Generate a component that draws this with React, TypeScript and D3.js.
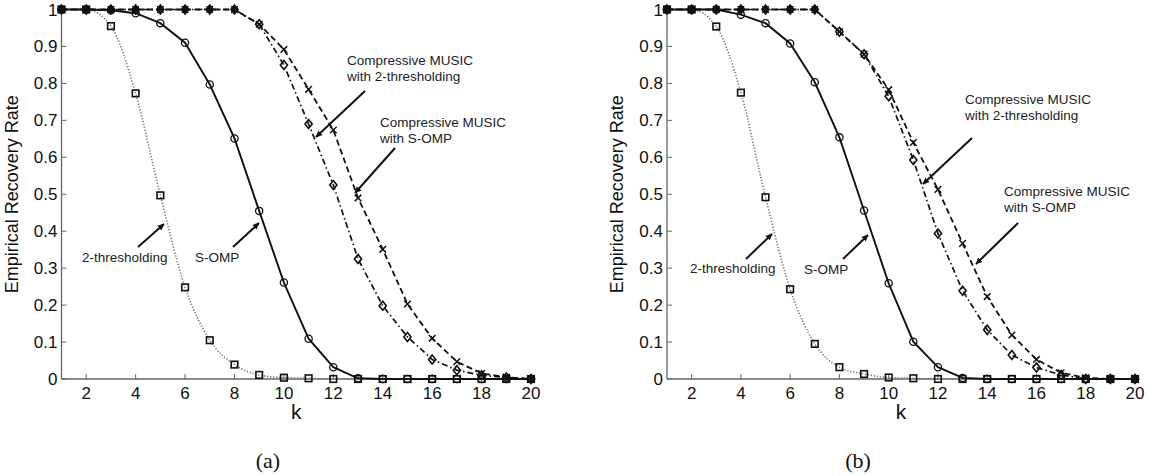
import React from "react";
import * as d3 from "d3";

const kValues = [1, 2, 3, 4, 5, 6, 7, 8, 9, 10, 11, 12, 13, 14, 15, 16, 17, 18, 19, 20];
const xTicks = [2, 4, 6, 8, 10, 12, 14, 16, 18, 20];
const yTicks = [0, 0.1, 0.2, 0.3, 0.4, 0.5, 0.6, 0.7, 0.8, 0.9, 1];

// panel (a)
const thr2A = [1, 1, 0.955, 0.773, 0.497, 0.248, 0.105, 0.039, 0.011, 0.0035, 0.002, 0, 0, 0, 0, 0, 0, 0, 0, 0];
const sompA = [1, 1, 0.998, 0.99, 0.963, 0.91, 0.797, 0.651, 0.455, 0.261, 0.109, 0.032, 0.002, 0, 0, 0, 0, 0, 0, 0];
const music2A = [1, 1, 1, 1, 1, 1, 1, 1, 0.96, 0.85, 0.69, 0.525, 0.325, 0.198, 0.114, 0.053, 0.024, 0.01, 0.004, 0];
const musicSA = [1, 1, 1, 1, 1, 1, 1, 1, 0.96, 0.892, 0.784, 0.674, 0.49, 0.351, 0.203, 0.11, 0.047, 0.015, 0.005, 0];

// panel (b)
const thr2B = [1, 1, 0.954, 0.775, 0.492, 0.243, 0.095, 0.032, 0.0135, 0.004, 0.002, 0, 0, 0, 0, 0, 0, 0, 0, 0];
const sompB = [1, 1, 1, 0.986, 0.963, 0.908, 0.803, 0.654, 0.456, 0.259, 0.101, 0.032, 0.003, 0, 0, 0, 0, 0, 0, 0];
const music2B = [1, 1, 1, 1, 1, 1, 1, 0.94, 0.879, 0.765, 0.593, 0.394, 0.239, 0.133, 0.065, 0.031, 0.011, 0, 0, 0];
const musicSB = [1, 1, 1, 1, 1, 1, 1, 0.94, 0.879, 0.783, 0.64, 0.513, 0.367, 0.223, 0.119, 0.053, 0.017, 0.003, 0, 0];

const yLabel = "Empirical Recovery Rate";
const xLabel = "k";
const captions = ["(a)", "(b)"];

type Ann = { lines: string[]; tx: number; ty: number; ax1: number; ay1: number; ax2: number; ay2: number };

const annA: Ann[] = [
  { lines: ["Compressive MUSIC", "with 2-thresholding"], tx: 347, ty: 65, ax1: 365, ay1: 91, ax2: 316, ay2: 137 },
  { lines: ["Compressive MUSIC", "with S-OMP"], tx: 380, ty: 127, ax1: 395, ay1: 148, ax2: 355, ay2: 193 },
  { lines: ["2-thresholding"], tx: 82, ty: 262, ax1: 138, ay1: 247, ax2: 164, ay2: 224 },
  { lines: ["S-OMP"], tx: 195, ty: 262, ax1: 233, ay1: 247, ax2: 259, ay2: 223 },
];
const annB: Ann[] = [
  { lines: ["Compressive MUSIC", "with 2-thresholding"], tx: 965, ty: 104, ax1: 972, ay1: 138, ax2: 923, ay2: 184 },
  { lines: ["Compressive MUSIC", "with S-OMP"], tx: 1004, ty: 196, ax1: 1018, ay1: 223, ax2: 976, ay2: 264 },
  { lines: ["2-thresholding"], tx: 690, ty: 273, ax1: 746, ay1: 259, ax2: 772, ay2: 234 },
  { lines: ["S-OMP"], tx: 804, ty: 274, ax1: 843, ay1: 259, ax2: 868, ay2: 235 },
];

const SANS = "'Liberation Sans', Arial, Helvetica, sans-serif";

function Panel(props: {
  x0: number; x1: number; y0: number; y1: number;
  thr2: number[]; somp: number[]; music2: number[]; musicS: number[];
  ann: Ann[]; caption: string; capX: number; idp: string;
}) {
  const { x0, x1, y0, y1, thr2, somp, music2, musicS, ann, caption, capX, idp } = props;
  const x = d3.scaleLinear().domain([1, 20]).range([x0, x1]);
  const y = d3.scaleLinear().domain([0, 1]).range([y0, y1]);
  const pts = (arr: number[]) => kValues.map((k, i) => [k, arr[i]] as [number, number]);
  const lineLin = d3.line<[number, number]>().x((d) => x(d[0])).y((d) => y(d[1]));
  const lineSmooth = d3.line<[number, number]>().x((d) => x(d[0])).y((d) => y(d[1])).curve(d3.curveMonotoneX);
  const axisColor = "#666";
  return (
    <g>
      <defs>
        <marker id={idp + "arrow"} viewBox="0 0 10 10" refX="9" refY="5" markerWidth="7" markerHeight="7" markerUnits="userSpaceOnUse" orient="auto">
          <path d="M0,0.5 L10,5 L0,9.5 z" fill="#111" />
        </marker>
      </defs>
      {/* axes */}
      <line x1={x0} x2={x1} y1={y0} y2={y0} stroke={axisColor} strokeWidth={1.3} />
      <line x1={x0} x2={x0} y1={y0} y2={y1} stroke={axisColor} strokeWidth={1.3} />
      {xTicks.map((t) => (
        <g key={"xt" + t}>
          <line x1={x(t)} x2={x(t)} y1={y0} y2={y0 - 5} stroke={axisColor} strokeWidth={1} />
          <text x={x(t)} y={y0 + 20} textAnchor="middle" fontFamily={SANS} fontSize={17} fill="#111">{t}</text>
        </g>
      ))}
      {yTicks.map((t) => (
        <g key={"yt" + t}>
          <line x1={x0} x2={x0 + 5} y1={y(t)} y2={y(t)} stroke={axisColor} strokeWidth={1} />
          <text x={x0 - 4} y={y(t) + 6} textAnchor="end" fontFamily={SANS} fontSize={17} fill="#111">{t === 0 ? "0" : t === 1 ? "1" : t.toFixed(1)}</text>
        </g>
      ))}
      <text x={(x0 + x1) / 2} y={y0 + 40} textAnchor="middle" fontFamily={SANS} fontSize={21} fill="#111">{xLabel}</text>
      <text transform={`translate(${x0 - 44},${(y0 + y1) / 2}) rotate(-90)`} textAnchor="middle" fontFamily={SANS} fontSize={18} fill="#111">{yLabel}</text>
      <text x={capX} y={468} textAnchor="middle" fontFamily="'Liberation Serif', 'DejaVu Serif', serif" fontSize={22} fill="#111">{caption}</text>

      {/* series lines */}
      <path d={lineSmooth(pts(thr2)) || ""} fill="none" stroke="#777" strokeWidth={1.6} strokeDasharray="1.3,1.7" />
      <path d={lineLin(pts(somp)) || ""} fill="none" stroke="#111" strokeWidth={1.9} />
      <path d={lineLin(pts(music2)) || ""} fill="none" stroke="#111" strokeWidth={1.7} strokeDasharray="6,3,1.5,3" />
      <path d={lineLin(pts(musicS)) || ""} fill="none" stroke="#111" strokeWidth={1.8} strokeDasharray="6,3.5" />

      {/* markers */}
      {pts(thr2).map((p, i) => (
        <rect key={"sq" + i} x={x(p[0]) - 3.3} y={y(p[1]) - 3.3} width={6.6} height={6.6} fill="none" stroke="#111" strokeWidth={1.6} />
      ))}
      {pts(somp).map((p, i) => (
        <circle key={"ci" + i} cx={x(p[0])} cy={y(p[1])} r={3.6} fill="none" stroke="#111" strokeWidth={1.3} />
      ))}
      {pts(music2).map((p, i) => (
        <path key={"di" + i} d={`M${x(p[0])},${y(p[1]) - 4.5} L${x(p[0]) + 3.6},${y(p[1])} L${x(p[0])},${y(p[1]) + 4.5} L${x(p[0]) - 3.6},${y(p[1])} Z`} fill="none" stroke="#111" strokeWidth={1.6} />
      ))}
      {pts(musicS).map((p, i) => (
        <path key={"xx" + i} d={`M${x(p[0]) - 3.3},${y(p[1]) - 3.3} L${x(p[0]) + 3.3},${y(p[1]) + 3.3} M${x(p[0]) - 3.3},${y(p[1]) + 3.3} L${x(p[0]) + 3.3},${y(p[1]) - 3.3}`} fill="none" stroke="#111" strokeWidth={1.5} />
      ))}
      {/* filled look where markers overlap at 1 and 0 */}
      {kValues.map((k, i) => {
        const vals = [thr2[i], somp[i], music2[i], musicS[i]];
        const ones = vals.filter((v) => v === 1).length;
        const zeros = vals.filter((v) => v === 0).length;
        if (ones >= 3 || zeros >= 4) {
          return <circle key={"fill" + i} cx={x(k)} cy={y(ones >= 3 ? 1 : 0)} r={3.4} fill="#111" />;
        }
        if (music2[i] === 1 && musicS[i] === 1) {
          return <path key={"fd" + i} d={`M${x(k)},${y(1) - 4.5} L${x(k) + 3.6},${y(1)} L${x(k)},${y(1) + 4.5} L${x(k) - 3.6},${y(1)} Z`} fill="#111" />;
        }
        return null;
      })}

      {/* annotations */}
      {ann.map((a, i) => (
        <g key={"ann" + i}>
          <text x={a.tx} y={a.ty} fontFamily={SANS} fontSize={13.5} fill="#222">
            {a.lines.map((l, j) => (
              <tspan key={j} x={a.tx} dy={j === 0 ? 0 : 15.5}>{l}</tspan>
            ))}
          </text>
          <line x1={a.ax1} y1={a.ay1} x2={a.ax2} y2={a.ay2} stroke="#111" strokeWidth={2} markerEnd={`url(#${idp}arrow)`} />
        </g>
      ))}
    </g>
  );
}

export default function App() {
  return (
    <svg width={1150} height={476} style={{ position: "absolute", left: 0, top: 0, background: "#fff" }}>
      <rect width={1150} height={476} fill="#fff" />
      <Panel x0={61.5} x1={531} y0={379} y1={9.5} thr2={thr2A} somp={sompA} music2={music2A} musicS={musicSA} ann={annA} caption={captions[0]} capX={268} idp="a" />
      <Panel x0={667} x1={1135} y0={379} y1={9.5} thr2={thr2B} somp={sompB} music2={music2B} musicS={musicSB} ann={annB} caption={captions[1]} capX={858} idp="b" />
    </svg>
  );
}
